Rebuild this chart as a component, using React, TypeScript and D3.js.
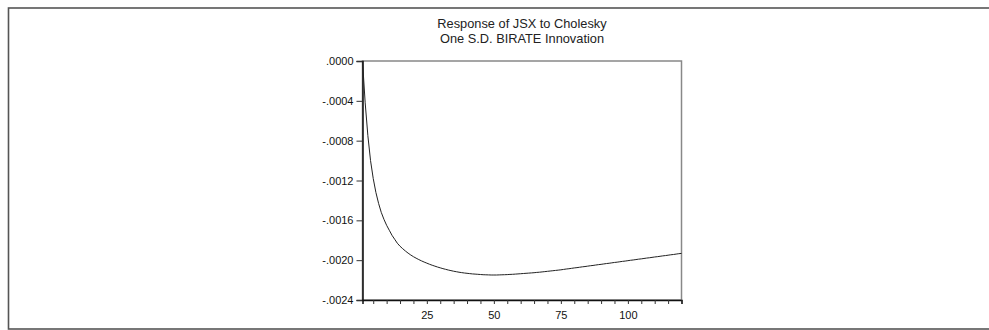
import React, { useRef, useEffect } from "react";
import * as d3 from "d3";

// impulse response, periods 1..120
const periods: number[] = d3.range(1, 121);
const response: number[] = [
  0, -0.00042, -0.00075, -0.00100, -0.00118, -0.00132, -0.00143, -0.00152, -0.00159, -0.00165,
  -0.00170, -0.00175, -0.00179, -0.00183, -0.00186, -0.001885, -0.001908, -0.001929, -0.001948, -0.001965,
  -0.00198, -0.001994, -0.002007, -0.002019, -0.00203, -0.002041, -0.002051, -0.00206, -0.002069, -0.002077,
  -0.002085, -0.002092, -0.002099, -0.002105, -0.002111, -0.002116, -0.002121, -0.002125, -0.002129, -0.002132,
  -0.002135, -0.002138, -0.00214, -0.002142, -0.002144, -0.002146, -0.002147, -0.002148, -0.002149, -0.002149,
  -0.002149, -0.002148, -0.002147, -0.002146, -0.002145, -0.002143, -0.002142, -0.00214, -0.002138, -0.002136,
  -0.002134, -0.002132, -0.00213, -0.002128, -0.002126, -0.002123, -0.002121, -0.002118, -0.002115, -0.002112,
  -0.002109, -0.002106, -0.002103, -0.0021, -0.002097, -0.002093, -0.002089, -0.002086, -0.002082, -0.002078,
  -0.002075, -0.002071, -0.002067, -0.002064, -0.00206, -0.002056, -0.002053, -0.002049, -0.002045, -0.002042,
  -0.002038, -0.002034, -0.002031, -0.002027, -0.002023, -0.00202, -0.002016, -0.002012, -0.002009, -0.002005,
  -0.002001, -0.001998, -0.001994, -0.00199, -0.001987, -0.001983, -0.001979, -0.001976, -0.001972, -0.001968,
  -0.001965, -0.001961, -0.001957, -0.001954, -0.00195, -0.001946, -0.001943, -0.001939, -0.001935, -0.001932,
];

const yTicks: number[] = [0, -0.0004, -0.0008, -0.0012, -0.0016, -0.002, -0.0024];
const xMajor: number[] = [25, 50, 75, 100];
const xMinor: number[] = d3.range(5, 121, 5);
const titleLines: string[] = ["Response of JSX to Cholesky", "One S.D. BIRATE Innovation"];

export default function App() {
  const ref = useRef<SVGSVGElement>(null);

  useEffect(() => {
    if (!ref.current) return;
    const svg = d3.select(ref.current);
    svg.selectAll("*").remove();

    const w = 989;
    const h = 330;
    const plot = { left: 362.5, right: 681.5, top: 61, bottom: 300 };
    const font = "'Liberation Sans', Arial, sans-serif";

    // outer frame
    svg.append("rect")
      .attr("x", 8.5)
      .attr("y", 8)
      .attr("width", w)
      .attr("height", h - 9)
      .attr("fill", "#fff")
      .attr("stroke", "#555")
      .attr("stroke-width", 1.6);

    const x = d3.scaleLinear().domain([1, 120]).range([plot.left, plot.right]);
    const y = d3.scaleLinear().domain([-0.0024, 0]).range([plot.bottom, plot.top]);

    // title
    svg.selectAll(".title")
      .data(titleLines)
      .enter()
      .append("text")
      .attr("x", (plot.left + plot.right) / 2)
      .attr("y", (_, i) => 28 + i * 15)
      .attr("text-anchor", "middle")
      .style("font-family", font)
      .style("font-size", "12.8px")
      .attr("fill", "#222")
      .text(d => d);

    // plot box (top/right in gray)
    svg.append("rect")
      .attr("x", plot.left)
      .attr("y", plot.top)
      .attr("width", plot.right - plot.left)
      .attr("height", plot.bottom - plot.top)
      .attr("fill", "none")
      .attr("stroke", "#888")
      .attr("stroke-width", 1.5);

    // y axis
    const fmt = (v: number) => {
      const s = d3.format(".4f")(Math.abs(v)).replace(/^0/, "");
      return v < 0 ? "-" + s : s;
    };
    const yAxis = d3.axisLeft<number>(y)
      .tickValues(yTicks)
      .tickSize(6)
      .tickPadding(3)
      .tickFormat(fmt);
    const gy = svg.append("g")
      .attr("transform", `translate(${plot.left},0)`)
      .call(yAxis);
    gy.select(".domain").attr("stroke", "#111").attr("stroke-width", 1.5);
    gy.selectAll(".tick line").attr("stroke", "#333");
    gy.selectAll(".tick text")
      .style("font-family", font)
      .style("font-size", "11px")
      .attr("fill", "#111");

    // x axis: minor ticks every 5, labels at 25s
    const xAxis = d3.axisBottom<number>(x)
      .tickValues(xMinor)
      .tickSize(4)
      .tickPadding(4)
      .tickFormat(d => (xMajor.includes(d) ? String(d) : ""));
    const gx = svg.append("g")
      .attr("transform", `translate(0,${plot.bottom})`)
      .call(xAxis);
    gx.select(".domain").attr("stroke", "#111").attr("stroke-width", 1.5);
    gx.selectAll(".tick line").attr("stroke", "#333");
    gx.selectAll(".tick text")
      .attr("dy", "1em")
      .style("font-family", font)
      .style("font-size", "11px")
      .attr("fill", "#111");

    // response line
    const line = d3.line<number>()
      .x((_, i) => x(periods[i]))
      .y(d => y(d));
    svg.append("path")
      .datum(response)
      .attr("d", line)
      .attr("fill", "none")
      .attr("stroke", "#222")
      .attr("stroke-width", 1);
  }, []);

  return (
    <svg
      ref={ref}
      width={989}
      height={330}
      style={{ position: "absolute", left: 0, top: 0, display: "block" }}
    />
  );
}
